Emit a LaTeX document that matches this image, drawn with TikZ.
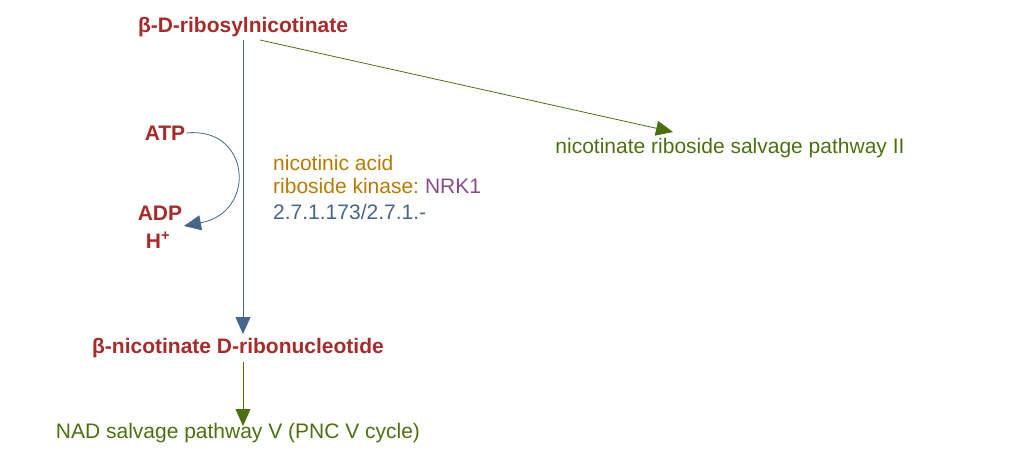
\documentclass[tikz,border=0pt]{standalone}
\usepackage{fontspec}
\setmainfont{Liberation Sans}
\usetikzlibrary{arrows.meta}
\definecolor{cpd}{HTML}{A82A2A}
\definecolor{grn}{HTML}{4C7010}
\definecolor{blu}{HTML}{46658A}
\definecolor{org}{HTML}{B87A00}
\definecolor{pur}{HTML}{8A4A8A}
\begin{document}
\begin{tikzpicture}[x=1pt,y=-1pt,
  cpd/.style={text=cpd,font=\fontsize{21}{25}\selectfont\bfseries,inner sep=1pt},
  lbl/.style={font=\fontsize{21}{25}\selectfont,inner sep=1pt},
  tip/.style={-{Triangle[length=17pt,width=15pt]}},
  ]
\useasboundingbox (0,0) rectangle (1028,452);
\node[cpd] (rib) at (243,27) {β-D-ribosylnicotinate};
\node[cpd] (nmn) at (238,348) {β-nicotinate D-ribonucleotide};
\node[lbl,text=grn] (nad) at (238,433) {NAD salvage pathway V (PNC V cycle)};
\node[lbl,text=grn] (sal) at (730,148) {nicotinate riboside salvage pathway II};
\node[cpd] (atp) at (165,133) {ATP};
\node[cpd] (adp) at (160,213) {ADP};
\node[cpd] (h) at (158,240) {H\textsuperscript{+}};
\node[lbl,text=org,anchor=west] (e1) at (272,163) {nicotinic acid};
\node[lbl,text=org,anchor=west] (e2) at (272,186) {riboside kinase:};
\node[lbl,text=pur,anchor=west] (e3) at (e2.east) {\,NRK1};
\node[lbl,text=blu,anchor=west] (ec) at (272,212) {2.7.1.173/2.7.1.-};
\coordinate (top) at (243,40);
\coordinate (bot) at (243,334);
\draw[blu,line width=0.8pt,tip] (top) -- (bot);
\draw[blu,line width=0.8pt,tip] (atp.east) .. controls (250,126) and (258,212) .. (184,226);
\draw[grn,line width=0.8pt,tip] (243,362) -- (243,426);
\draw[grn,line width=0.8pt,tip] (260,40) -- (673,132);
\end{tikzpicture}
\end{document}
